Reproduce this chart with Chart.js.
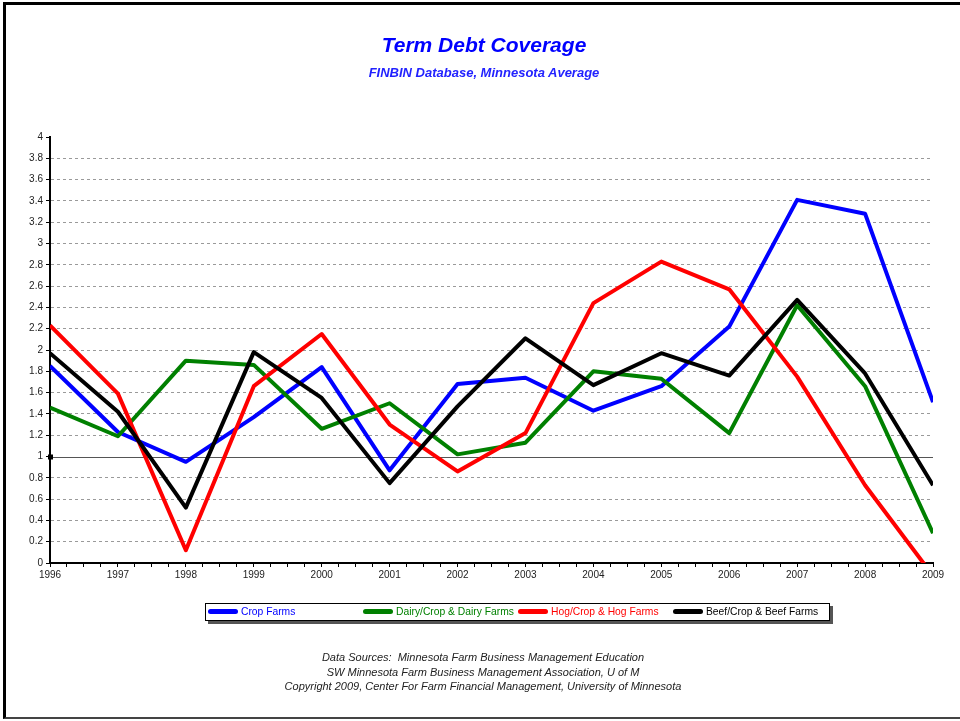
<!DOCTYPE html>
<html>
<head>
<meta charset="utf-8">
<script src="https://cdn.jsdelivr.net/npm/chart.js@4.4.1/dist/chart.umd.min.js"></script>
<style>
  html, body { margin: 0; padding: 0; background: #fff; }
  body { width: 960px; height: 721px; position: relative; overflow: hidden; font-family: "Liberation Sans", Arial, sans-serif; }
  #frame { position: absolute; left: 3px; top: 2px; width: 1000px; height: 712px; border-left: 3px solid #000; border-top: 3px solid #000; border-bottom: 2px solid #444; }
  #debtChart { position: absolute; left: 0; top: 0; }
  .title { position: absolute; left: 0; width: 968px; text-align: center; font-weight: bold; font-style: italic; }
  #main-title { top: 33px; font-size: 21px; line-height: 24px; color: #0000ff; }
  #sub-title { top: 65px; font-size: 13px; line-height: 16px; color: #2222ff; }
  #legend { position: absolute; left: 205px; top: 603px; width: 623px; height: 16px; border: 1px solid #000; background: #fff; box-shadow: 3px 3px 0 #555; }
  .item { position: absolute; top: 0; height: 16px; font-size: 10.3px; line-height: 16px; white-space: nowrap; }
  .item .swatch { display: inline-block; width: 30px; height: 5px; border-radius: 3px; vertical-align: middle; margin-right: 3px; position: relative; top: -1px; }
  #footer { position: absolute; left: 0; top: 650px; width: 966px; text-align: center; font-size: 11px; line-height: 14.5px; font-style: italic; color: #222; }
</style>
</head>
<body>
<div id="frame"></div>
<canvas id="debtChart" width="960" height="721"></canvas>
<div id="main-title" class="title">Term Debt Coverage</div>
<div id="sub-title" class="title">FINBIN Database, Minnesota Average</div>
<div id="legend"></div>
<div id="footer">Data Sources:&nbsp; Minnesota Farm Business Management Education<br>SW Minnesota Farm Business Management Association, U of M<br>Copyright 2009, Center For Farm Financial Management, University of Minnesota</div>
<script>
const years = [1996, 1997, 1998, 1999, 2000, 2001, 2002, 2003, 2004, 2005, 2006, 2007, 2008, 2009];
const seriesNames = ['Crop Farms', 'Dairy/Crop & Dairy Farms', 'Hog/Crop & Hog Farms', 'Beef/Crop & Beef Farms'];
const seriesColors = ['#0000ff', '#008000', '#ff0000', '#000000'];
const cropFarms  = [1.85, 1.23, 0.95, 1.37, 1.84, 0.87, 1.68, 1.74, 1.43, 1.66, 2.22, 3.41, 3.28, 1.51];
const dairyFarms = [1.46, 1.19, 1.90, 1.86, 1.26, 1.50, 1.02, 1.13, 1.80, 1.73, 1.22, 2.42, 1.66, 0.28];
const hogFarms   = [2.23, 1.59, 0.12, 1.66, 2.15, 1.30, 0.86, 1.22, 2.44, 2.83, 2.57, 1.75, 0.73, -0.12];
const beefFarms  = [1.97, 1.42, 0.52, 1.98, 1.55, 0.75, 1.47, 2.11, 1.67, 1.97, 1.76, 2.47, 1.78, 0.73];
const yTicks = { min: 0, max: 4, step: 0.2 };
const REF_VALUE = 1;

const allSeries = [cropFarms, dairyFarms, hogFarms, beefFarms];
const FONT = '"Liberation Sans", Arial, sans-serif';

// legend in four equal columns
const legendEl = document.getElementById('legend');
seriesNames.forEach(function(name, i) {
  const item = document.createElement('div');
  item.className = 'item';
  item.style.left = (2 + i * 155) + 'px';
  item.style.color = seriesColors[i];
  item.innerHTML = '<span class="swatch" style="background:' + seriesColors[i] + '"></span>';
  item.appendChild(document.createTextNode(name));
  legendEl.appendChild(item);
});

const refLinePlugin = {
  id: 'refLine',
  beforeDatasetsDraw(chart) {
    const { ctx, chartArea, scales } = chart;
    const y = Math.round(scales.y.getPixelForValue(REF_VALUE)) + 0.5;
    ctx.save();
    ctx.strokeStyle = '#555';
    ctx.lineWidth = 1;
    ctx.beginPath();
    ctx.moveTo(chartArea.left, y);
    ctx.lineTo(chartArea.right, y);
    ctx.stroke();
    const x = scales.x.getPixelForValue(scales.x.min);
    ctx.fillStyle = '#000';
    ctx.fillRect(x - 2, y - 3, 5, 5);
    ctx.restore();
  }
};

const datasets = allSeries.map(function(vals, i) {
  return {
    label: seriesNames[i],
    data: years.map(function(yr, j) { return { x: yr, y: vals[j] }; }),
    borderColor: seriesColors[i],
    backgroundColor: seriesColors[i],
    borderWidth: 4,
    borderJoinStyle: 'round',
    pointRadius: 0,
    tension: 0,
    clip: 0,
    order: allSeries.length - i
  };
});

const ctx = document.getElementById('debtChart').getContext('2d');
new Chart(ctx, {
  type: 'line',
  data: { datasets: datasets },
  options: {
    responsive: false,
    animation: false,
    layout: { padding: { top: 137, left: 10, right: 27, bottom: 133 } },
    plugins: {
      legend: { display: false },
      tooltip: { enabled: false },
      title: { display: false }
    },
    scales: {
      x: {
        type: 'linear',
        min: years[0],
        max: years[years.length - 1],
        afterFit: function(s) { s.height = 25; },
        ticks: {
          stepSize: 0.25,
          autoSkip: false,
          maxTicksLimit: 100,
          maxRotation: 0,
          padding: 2,
          color: '#222',
          font: { size: 10, family: FONT },
          callback: function(v) { return Number.isInteger(v) ? String(v) : ''; }
        },
        grid: { drawOnChartArea: false, drawTicks: true, tickLength: 4, tickColor: '#000', tickWidth: 1 },
        border: { color: '#000', width: 2 }
      },
      y: {
        min: yTicks.min,
        max: yTicks.max,
        afterFit: function(s) { s.width = 40; },
        ticks: {
          stepSize: yTicks.step,
          autoSkip: false,
          maxTicksLimit: 100,
          padding: 3,
          color: '#222',
          font: { size: 10, family: FONT },
          callback: function(v) { return String(+v.toFixed(1)); }
        },
        grid: {
          color: function(c) {
            if (!c.tick) return '#9a9a9a';
            const v = c.tick.value;
            if (Math.abs(v - yTicks.min) < 1e-6 || Math.abs(v - yTicks.max) < 1e-6 || Math.abs(v - REF_VALUE) < 1e-6) return 'rgba(0,0,0,0)';
            return '#9a9a9a';
          },
          lineWidth: 1,
          tickLength: 4,
          tickColor: '#000'
        },
        border: { color: '#000', width: 2, dash: [3, 3] }
      }
    }
  },
  plugins: [refLinePlugin]
});
</script>
</body>
</html>
